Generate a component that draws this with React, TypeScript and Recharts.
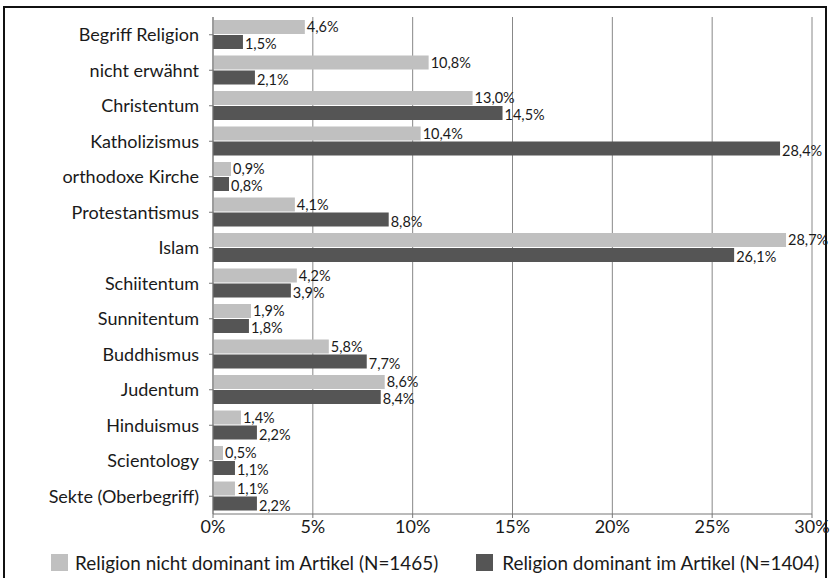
import React from 'react'
import { BarChart, Bar, XAxis, YAxis, CartesianGrid, LabelList } from 'recharts'

const categories = [
  'Begriff Religion',
  'nicht erwähnt',
  'Christentum',
  'Katholizismus',
  'orthodoxe Kirche',
  'Protestantismus',
  'Islam',
  'Schiitentum',
  'Sunnitentum',
  'Buddhismus',
  'Judentum',
  'Hinduismus',
  'Scientology',
  'Sekte (Oberbegriff)',
]
const nichtDominant = [4.6, 10.8, 13.0, 10.4, 0.9, 4.1, 28.7, 4.2, 1.9, 5.8, 8.6, 1.4, 0.5, 1.1]
const dominant = [1.5, 2.1, 14.5, 28.4, 0.8, 8.8, 26.1, 3.9, 1.8, 7.7, 8.4, 2.2, 1.1, 2.2]
const xTicks = [0, 5, 10, 15, 20, 25, 30]

const seriesNames = ['Religion nicht dominant im Artikel (N=1465)', 'Religion dominant im Artikel (N=1404)']
const LIGHT = '#c0c0c0'
const DARK = '#555555'
const TEXT = '#1a1a1a'
const FONT = 'Lato, sans-serif'

const data = categories.map((name, i) => ({ name, a: nichtDominant[i], b: dominant[i] }))

const fmt = (v: any) => `${Number(v).toFixed(1).replace('.', ',')}%`

export default function App() {
  return (
    <div style={{ position: 'absolute', left: 0, top: 0, width: 830, height: 578, background: '#fff', fontFamily: FONT, overflow: 'hidden' }}>
      <div style={{ position: 'absolute', left: 3, top: 6, width: 820, height: 590, border: '2px solid #111' }} />
      <div style={{ position: 'absolute', left: 0, top: 0 }}>
        <BarChart
          width={830}
          height={548}
          layout="vertical"
          data={data}
          margin={{ top: 17, right: 18, bottom: 0, left: 0 }}
          barSize={14}
          barGap={1}
        >
          <CartesianGrid horizontal={false} stroke="#888" strokeWidth={1} />
          <XAxis
            type="number"
            domain={[0, 30]}
            ticks={xTicks}
            tickFormatter={(v) => `${v}%`}
            tick={{ fill: TEXT, fontSize: 18, fontFamily: FONT }}
            stroke="#777"
            tickSize={4}
            height={34}
            interval={0}
          />
          <YAxis
            type="category"
            dataKey="name"
            width={213}
            tick={{ fill: TEXT, fontSize: 18, fontFamily: FONT }}
            stroke="#777"
            tickSize={4}
            tickMargin={10}
            interval={0}
          />
          <Bar dataKey="a" fill={LIGHT} isAnimationActive={false}>
            <LabelList dataKey="a" position="right" offset={2} formatter={fmt} style={{ fill: TEXT, fontSize: 14.5, fontFamily: FONT }} />
          </Bar>
          <Bar dataKey="b" fill={DARK} isAnimationActive={false}>
            <LabelList dataKey="b" position="right" offset={2} formatter={fmt} style={{ fill: TEXT, fontSize: 14.5, fontFamily: FONT }} dy={2} />
          </Bar>
        </BarChart>
      </div>
      <div style={{ position: 'absolute', left: 51, top: 551, display: 'flex', alignItems: 'center', fontSize: 18.9, color: TEXT, whiteSpace: 'nowrap' }}>
        <span style={{ width: 17, height: 17, background: LIGHT, display: 'inline-block', marginRight: 7 }} />
        <span style={{ marginRight: 38 }}>{seriesNames[0]}</span>
        <span style={{ width: 17, height: 17, background: DARK, display: 'inline-block', marginRight: 9 }} />
        <span>{seriesNames[1]}</span>
      </div>
    </div>
  )
}
